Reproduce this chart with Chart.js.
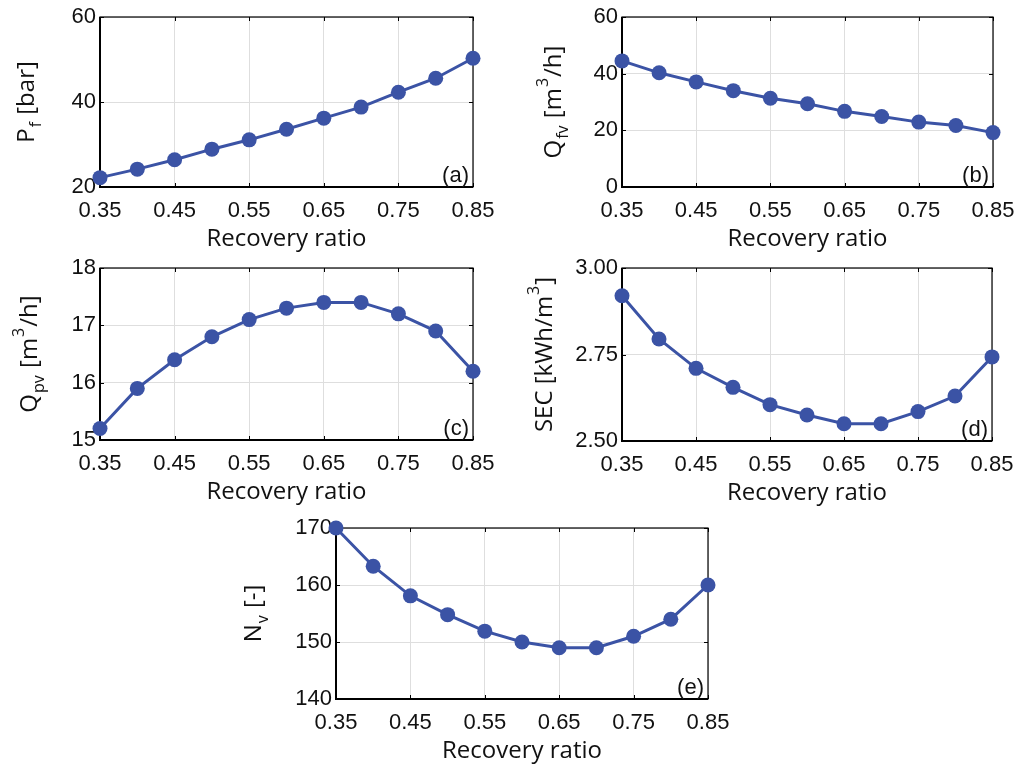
<!DOCTYPE html>
<html>
<head>
<meta charset="utf-8">
<script src="https://cdn.jsdelivr.net/npm/chart.js@4.4.1/dist/chart.umd.min.js"></script>
<style>
  body { margin: 0; background: #fff; }
  #wrap { position: relative; width: 1019px; height: 765px; overflow: hidden; }
  canvas { position: absolute; }
</style>
</head>
<body>
<div id="wrap"></div>
<script>
// Daten
const recovery = [0.35, 0.40, 0.45, 0.50, 0.55, 0.60, 0.65, 0.70, 0.75, 0.80, 0.85];
const xTicks = [0.35, 0.45, 0.55, 0.65, 0.75, 0.85];

const pf  = [22.2, 24.2, 26.4, 28.9, 31.1, 33.6, 36.2, 38.8, 42.3, 45.6, 50.3];
const qfv = [44.5, 40.3, 37.1, 34.0, 31.3, 29.4, 26.7, 24.9, 22.9, 21.7, 19.2];
const qpv = [15.2, 15.9, 16.4, 16.8, 17.1, 17.3, 17.4, 17.4, 17.2, 16.9, 16.2];
const sec = [2.92, 2.795, 2.71, 2.655, 2.605, 2.575, 2.55, 2.55, 2.585, 2.63, 2.743];
const nv  = [170, 163.3, 158.1, 154.8, 151.9, 150, 149, 149, 151, 154, 160];

const pfTicks  = [20, 40, 60];
const qfvTicks = [0, 20, 40, 60];
const qpvTicks = [15, 16, 17, 18];
const secTicks = [2.50, 2.75, 3.00];
const nvTicks  = [140, 150, 160, 170];

const blue = 'rgb(59,83,165)';
const tickFont = { family: 'Liberation Sans, Arial, sans-serif', size: 22 };
const titleFamily = 'Open Sans, sans-serif';

// Y_W: Platz fuer die y-Achse, X_H: Platz fuer die x-Achse
const Y_W = 110, X_H = 67, PT = 16, PR = 22;

const panels = [
    { values: pf,  yTicks: pfTicks,  dec: 0, label: '(a)', area: [100, 17, 473, 187], titleX: 34,
      title: [['P', ''], ['f', 'sub'], [' [bar]', '']] },
    { values: qfv, yTicks: qfvTicks, dec: 0, label: '(b)', area: [622, 17, 993, 187], titleX: 561,
      title: [['Q', ''], ['fv', 'sub'], [' [m', ''], ['3', 'sup'], ['/h]', '']] },
    { values: qpv, yTicks: qpvTicks, dec: 0, label: '(c)', area: [100, 268, 473, 440], titleX: 37,
      title: [['Q', ''], ['pv', 'sub'], [' [m', ''], ['3', 'sup'], ['/h]', '']] },
    { values: sec, yTicks: secTicks, dec: 2, label: '(d)', area: [622, 268, 992, 441], titleX: 552,
      title: [['SEC [kWh/m', ''], ['3', 'sup'], [']', '']] },
    { values: nv,  yTicks: nvTicks,  dec: 0, label: '(e)', area: [336, 528, 708, 699], titleX: 261,
      title: [['N', ''], ['v', 'sub'], [' [-]', '']] }
];

const framePlugin = {
    id: 'frame',
    beforeDatasetsDraw(chart) {
        const { ctx, chartArea: a, scales: { x, y } } = chart;
        ctx.save();
        ctx.strokeStyle = '#000';
        ctx.lineWidth = 1;
        ctx.beginPath();
        x.ticks.forEach(t => {
            const px = Math.round(x.getPixelForValue(t.value)) + 0.5;
            ctx.moveTo(px, a.bottom); ctx.lineTo(px, a.bottom - 4);
            ctx.moveTo(px, a.top); ctx.lineTo(px, a.top + 4);
        });
        y.ticks.forEach(t => {
            const py = Math.round(y.getPixelForValue(t.value)) + 0.5;
            ctx.moveTo(a.left, py); ctx.lineTo(a.left + 4, py);
            ctx.moveTo(a.right, py); ctx.lineTo(a.right - 4, py);
        });
        ctx.stroke();
        ctx.lineWidth = 1.2;
        ctx.strokeRect(a.left, a.top, a.right - a.left, a.bottom - a.top);
        ctx.lineWidth = 2;
        ctx.beginPath();
        ctx.moveTo(a.left, a.top); ctx.lineTo(a.left, a.bottom); ctx.lineTo(a.right, a.bottom);
        ctx.stroke();
        ctx.restore();
    },
    afterDraw(chart) {
        const { ctx, chartArea: a } = chart;
        const p = chart.options.plugins.frame;
        ctx.save();
        ctx.fillStyle = '#111';
        // Feldbeschriftung unten rechts
        ctx.font = '22px Liberation Sans, Arial, sans-serif';
        ctx.textAlign = 'right';
        ctx.textBaseline = 'alphabetic';
        ctx.fillText(p.label, a.right - 4, a.bottom - 5);
        // y-Titel mit Hoch-/Tiefstellung
        const size = 24;
        const fontFor = kind => (kind ? Math.round(size * 0.68) : size) + 'px ' + titleFamily;
        let total = 0;
        p.title.forEach(([t, k]) => { ctx.font = fontFor(k); total += ctx.measureText(t).width + (k ? 2 : 0); });
        ctx.translate(p.titleX - chart.canvas.offsetLeft, (a.top + a.bottom) / 2);
        ctx.rotate(-Math.PI / 2);
        ctx.textAlign = 'left';
        let cx = -total / 2;
        p.title.forEach(([t, k]) => {
            ctx.font = fontFor(k);
            const dy = k === 'sub' ? size * 0.3 : (k === 'sup' ? -size * 0.55 : 0);
            if (k) cx += 1;
            ctx.fillText(t, cx, dy);
            cx += ctx.measureText(t).width + (k ? 1 : 0);
        });
        ctx.restore();
    }
};

const wrap = document.getElementById('wrap');

panels.forEach(p => {
    const [L, T, R, B] = p.area;
    const cv = document.createElement('canvas');
    const w = R - L + Y_W + PR, h = B - T + PT + X_H;
    cv.width = w; cv.height = h;
    cv.style.left = (L - Y_W) + 'px';
    cv.style.top = (T - PT) + 'px';
    cv.style.width = w + 'px'; cv.style.height = h + 'px';
    wrap.appendChild(cv);

    new Chart(cv, {
        type: 'line',
        data: {
            datasets: [{
                data: recovery.map((r, i) => ({ x: r, y: p.values[i] })),
                borderColor: blue,
                backgroundColor: blue,
                borderWidth: 3,
                pointRadius: 7.5,
                pointBackgroundColor: blue,
                pointBorderWidth: 0,
                clip: false
            }]
        },
        options: {
            responsive: false,
            animation: false,
            layout: { padding: { left: 0, top: PT, right: PR, bottom: 0 } },
            plugins: {
                legend: { display: false },
                tooltip: { enabled: false },
                frame: p
            },
            scales: {
                x: {
                    type: 'linear',
                    min: 0.35,
                    max: 0.85,
                    afterBuildTicks: s => { s.ticks = xTicks.map(v => ({ value: v })); },
                    afterFit: s => { s.height = X_H; s.paddingLeft = 0; s.paddingRight = 0; },
                    grid: { color: '#dedede', lineWidth: 1, drawTicks: false },
                    border: { display: false },
                    ticks: {
                        font: tickFont, color: '#111', padding: 11, maxRotation: 0,
                        callback: v => v.toFixed(2)
                    },
                    title: {
                        display: true, text: 'Recovery ratio', color: '#111',
                        font: { family: titleFamily, size: 24 }, padding: { top: 0, bottom: 0 }
                    }
                },
                y: {
                    min: p.yTicks[0],
                    max: p.yTicks[p.yTicks.length - 1],
                    afterBuildTicks: s => { s.ticks = p.yTicks.map(v => ({ value: v })); },
                    afterFit: s => { s.width = Y_W; s.paddingTop = 0; s.paddingBottom = 0; },
                    grid: { color: '#dedede', lineWidth: 1, drawTicks: false },
                    border: { display: false },
                    ticks: {
                        font: tickFont, color: '#111', padding: 4,
                        callback: v => v.toFixed(p.dec)
                    }
                }
            }
        },
        plugins: [framePlugin]
    });
});
</script>
</body>
</html>
